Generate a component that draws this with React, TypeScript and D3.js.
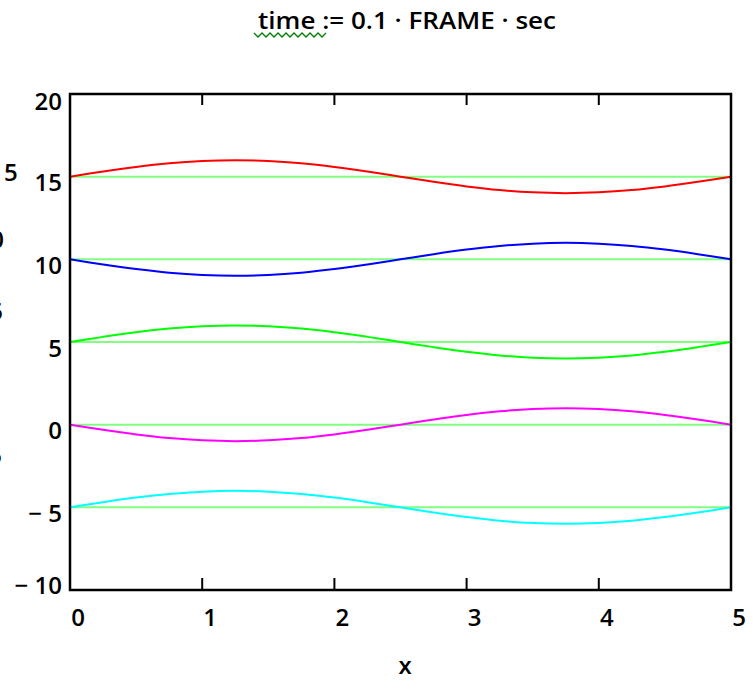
import * as d3 from "d3";
import { useEffect, useRef } from "react";

// x samples (step 0.25) and the curves
const xs = [0, 0.25, 0.5, 0.75, 1, 1.25, 1.5, 1.75, 2, 2.25, 2.5, 2.75, 3, 3.25, 3.5, 3.75, 4, 4.25, 4.5, 4.75, 5];
const red = [15, 15.31, 15.59, 15.81, 15.95, 16, 15.95, 15.81, 15.59, 15.31, 15, 14.69, 14.41, 14.19, 14.05, 14, 14.05, 14.19, 14.41, 14.69, 15];
const blue = [10, 9.69, 9.41, 9.19, 9.05, 9, 9.05, 9.19, 9.41, 9.69, 10, 10.31, 10.59, 10.81, 10.95, 11, 10.95, 10.81, 10.59, 10.31, 10];
const green = [5, 5.31, 5.59, 5.81, 5.95, 6, 5.95, 5.81, 5.59, 5.31, 5, 4.69, 4.41, 4.19, 4.05, 4, 4.05, 4.19, 4.41, 4.69, 5];
const magenta = [0, -0.31, -0.59, -0.81, -0.95, -1, -0.95, -0.81, -0.59, -0.31, 0, 0.31, 0.59, 0.81, 0.95, 1, 0.95, 0.81, 0.59, 0.31, 0];
const cyan = [-5, -4.69, -4.41, -4.19, -4.05, -4, -4.05, -4.19, -4.41, -4.69, -5, -5.31, -5.59, -5.81, -5.95, -6, -5.95, -5.81, -5.59, -5.31, -5];
const baselines = [15, 10, 5, 0, -5];

const xTicks = [0, 1, 2, 3, 4, 5];
const yTicks = [20, 15, 10, 5, 0, -5, -10];

const series = [
  { values: red, color: "#ff0000" },
  { values: blue, color: "#0000ff" },
  { values: green, color: "#00ff00" },
  { values: magenta, color: "#ff00ff" },
  { values: cyan, color: "#00ffff" },
];

const WIDTH = 753;
const HEIGHT = 681;
const FONT = "'Open Sans', sans-serif";

const fmt = (v: number) => (v < 0 ? "\u2212 " + Math.abs(v) : String(v));

const App = () => {
  const svgRef = useRef<SVGSVGElement>(null);

  useEffect(() => {
    const svg = d3.select(svgRef.current);
    svg.selectAll("*").remove();

    const margin = { top: 94, right: 22, bottom: 91, left: 70 };
    const x = d3.scaleLinear().domain([0, 5]).range([margin.left, WIDTH - margin.right]);
    const y = d3.scaleLinear().domain([-10, 20]).range([HEIGHT - margin.bottom, margin.top]);

    // title
    const title = svg
      .append("text")
      .attr("x", 258)
      .attr("y", 29)
      .attr("font-family", FONT)
      .attr("font-weight", 600)
      .attr("font-size", 23)
      .attr("textLength", 298)
      .attr("lengthAdjust", "spacingAndGlyphs")
      .text("time := 0.1 \u00b7 FRAME \u00b7 sec");

    // wavy underline under "time"
    const wave: [number, number][] = [];
    for (let px = 254, k = 0; px <= 326; px += 4, k++) wave.push([px, k % 2 === 0 ? 33 : 37]);
    svg
      .append("path")
      .attr("d", d3.line()(wave))
      .attr("fill", "none")
      .attr("stroke", "#008000")
      .attr("stroke-width", 1.3);
    title.raise();

    // horizontal reference lines
    svg
      .append("g")
      .selectAll("line")
      .data(baselines)
      .join("line")
      .attr("x1", x(0))
      .attr("x2", x(5))
      .attr("y1", (d) => y(d))
      .attr("y2", (d) => y(d))
      .attr("stroke", "#80ff80")
      .attr("stroke-width", 2);

    const line = d3
      .line<number>()
      .x((_, i) => x(xs[i]))
      .y((d) => y(d))
      .curve(d3.curveCatmullRom);

    series.forEach((s) => {
      svg
        .append("path")
        .datum(s.values)
        .attr("fill", "none")
        .attr("stroke", s.color)
        .attr("stroke-width", 2)
        .attr("d", line);
    });

    // frame
    svg
      .append("rect")
      .attr("x", x(0))
      .attr("y", y(20))
      .attr("width", x(5) - x(0))
      .attr("height", y(-10) - y(20))
      .attr("fill", "none")
      .attr("stroke", "#000")
      .attr("stroke-width", 2.5);

    // inward ticks top and bottom
    const inner = xTicks.slice(1, -1);
    svg
      .append("g")
      .selectAll("line")
      .data(inner)
      .join("line")
      .attr("x1", (d) => x(d))
      .attr("x2", (d) => x(d))
      .attr("y1", y(-10))
      .attr("y2", y(-10) - 12)
      .attr("stroke", "#000")
      .attr("stroke-width", 2);
    svg
      .append("g")
      .selectAll("line")
      .data(inner)
      .join("line")
      .attr("x1", (d) => x(d))
      .attr("x2", (d) => x(d))
      .attr("y1", y(20))
      .attr("y2", y(20) + 11)
      .attr("stroke", "#000")
      .attr("stroke-width", 2);

    // y labels
    svg
      .append("g")
      .selectAll("text")
      .data(yTicks)
      .join("text")
      .attr("x", x(0) - 8)
      .attr("y", (d) => Math.max(101, Math.min(585, y(d) + 6)))
      .attr("dy", "0.36em")
      .attr("text-anchor", "end")
      .attr("font-family", FONT)
      .attr("font-weight", 600)
      .attr("font-size", 24)
      .text((d) => fmt(d));

    // x labels
    svg
      .append("g")
      .selectAll("text")
      .data(xTicks)
      .join("text")
      .attr("x", (d) => x(d) + 8)
      .attr("y", 617)
      .attr("dy", "0.36em")
      .attr("text-anchor", "middle")
      .attr("font-family", FONT)
      .attr("font-weight", 600)
      .attr("font-size", 24)
      .text((d) => String(d));

    svg
      .append("text")
      .attr("x", 405)
      .attr("y", 665)
      .attr("dy", "0.36em")
      .attr("text-anchor", "middle")
      .attr("font-family", FONT)
      .attr("font-weight", 600)
      .attr("font-size", 24)
      .text("x");

    // clipped fragments of the y-axis expression at the left edge
    const frags = [
      { t: "5", x: 4, y: 172, anchor: "start" },
      { t: "0", x: 4, y: 239, anchor: "end" },
      { t: "5", x: 3, y: 311, anchor: "end" },
      { t: "5", x: 2, y: 455, anchor: "end" },
    ];
    svg
      .append("g")
      .selectAll("text")
      .data(frags)
      .join("text")
      .attr("x", (d) => d.x)
      .attr("y", (d) => d.y)
      .attr("dy", "0.36em")
      .attr("text-anchor", (d) => d.anchor)
      .attr("font-family", FONT)
      .attr("font-weight", 600)
      .attr("font-size", 24)
      .text((d) => d.t);
  }, []);

  return (
    <svg
      ref={svgRef}
      width={WIDTH}
      height={HEIGHT}
      style={{ position: "absolute", left: 0, top: 0, background: "#fff" }}
    />
  );
};

export default App;
